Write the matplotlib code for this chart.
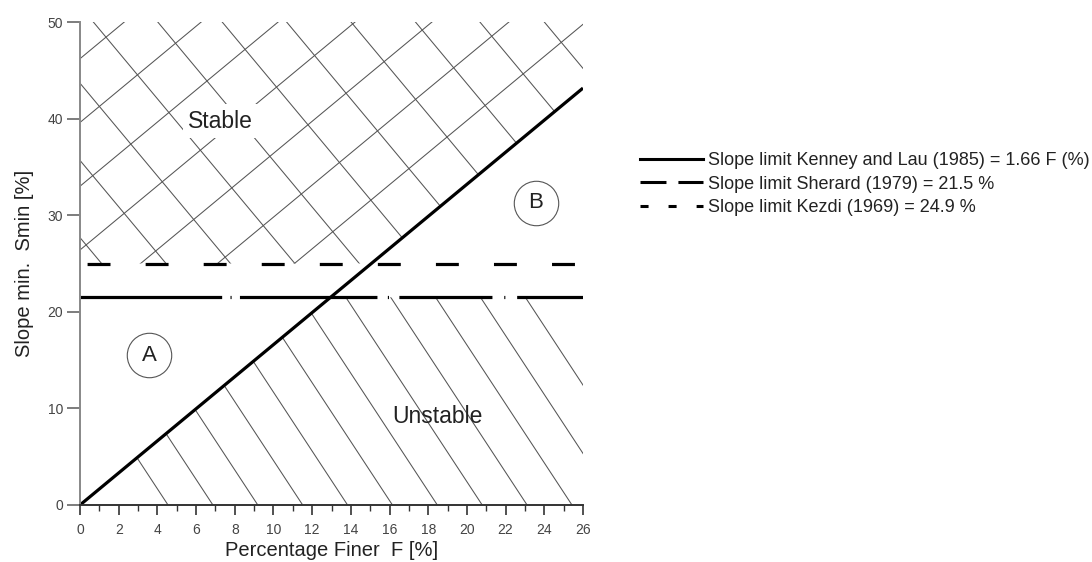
import numpy as np
import matplotlib
matplotlib.use('Agg')
import matplotlib.pyplot as plt
from matplotlib.patches import Polygon
from matplotlib.lines import Line2D

plt.rcParams['font.family'] = ['Liberation Sans', 'DejaVu Sans']
plt.rcParams['lines.scale_dashes'] = False

# chart values
kenney_f = [0.0, 26.0]
kenney_s = [0.0, 43.16]
sherard_s = 21.5
kezdi_s = 24.9
x_max, y_max = 26, 50
labels = ['Slope limit Kenney and Lau (1985) = 1.66 F (%)',
          'Slope limit Sherard (1979) = 21.5 %',
          'Slope limit Kezdi (1969) = 24.9 %']
region_marks = {'A': (3.58, 15.5), 'B': (23.55, 31.3)}
region_text = {'Stable': (7.27, 39.7), 'Unstable': (18.5, 9.2)}

fig = plt.figure(figsize=(10.92, 5.62), dpi=100)
ax = fig.add_axes([80 / 1092, 1 - 505 / 562, 503 / 1092, 483 / 562])
ax.set_xlim(0, x_max)
ax.set_ylim(0, y_max)

k = kenney_s[1] / kenney_f[1]
hatch_c = '#555555'

# stable region: cross hatch above Kezdi limit and above Kenney line
top = 25.0
stable = Polygon([(0, top), (top / k, top), (x_max, k * x_max), (x_max, y_max), (0, y_max)],
                 closed=True, fc='none', ec='none')
ax.add_patch(stable)
xs = np.array([-10, 40])
for c in np.arange(1, 9) * 6.6:
    ln, = ax.plot(xs, k * xs + c, color=hatch_c, lw=0.75)
    ln.set_clip_path(stable)
for x0 in 0.69 + 3.33 * np.arange(-10, 10):
    ln, = ax.plot(xs, y_max - 2.4 * (xs - x0), color=hatch_c, lw=0.75)
    ln.set_clip_path(stable)

# unstable region: single hatch below Sherard limit and below Kenney line
unstable = Polygon([(0, 0), (sherard_s / k, sherard_s), (x_max, sherard_s), (x_max, 0)],
                   closed=True, fc='none', ec='none')
ax.add_patch(unstable)
for x0 in 4.55 + 2.32 * np.arange(0, 12):
    ln, = ax.plot(xs, -3.05 * (xs - x0), color=hatch_c, lw=0.75)
    ln.set_clip_path(unstable)

# limit lines
ax.plot(kenney_f, kenney_s, color='black', lw=2.3, solid_capstyle='butt')
ax.axhline(sherard_s, color='black', lw=2.3, dash_capstyle='butt',
           dashes=(102, 6, 0.8, 6, 99, 7.5, 0.8, 7.5, 67, 8.5, 0.8, 8.5, 100, 10))
ax.axhline(kezdi_s, color='black', lw=2.3, dash_capstyle='butt',
           linestyle=(36.7, (16.5, 25.3)))

for lab, (px, py) in region_marks.items():
    ax.plot(px, py, 'o', ms=32, mfc='white', mec='#555555', mew=0.8)
    ax.text(px, py, lab, ha='center', va='center', fontsize=16, color='#222222')
ax.text(*region_text['Stable'], 'Stable', ha='center', va='center', fontsize=16.5,
        color='#222222', bbox=dict(fc='white', ec='none', pad=4))
ax.text(*region_text['Unstable'], 'Unstable', ha='center', va='center', fontsize=16.5,
        color='#222222')

# axes styling
for s in ['top', 'right']:
    ax.spines[s].set_visible(False)
ax.spines['left'].set_color('#888888')
ax.spines['left'].set_linewidth(1.4)
ax.spines['bottom'].set_color('#333333')
ax.spines['bottom'].set_linewidth(1.4)
ax.set_yticks(np.arange(0, 51, 10))
ax.set_xticks(np.arange(0, 27, 2))
ax.set_xticks(np.arange(1, 26, 2), minor=True)
ax.tick_params(axis='y', length=9.5, width=1.2, color='#666666', pad=2.5,
               labelsize=10, labelcolor='#444444')
ax.tick_params(axis='x', which='major', length=7.2, width=1.2, color='#333333', pad=6,
               labelsize=10, labelcolor='#444444')
ax.tick_params(axis='x', which='minor', length=4.3, width=1.0, color='#333333')
ax.set_xlabel('Percentage Finer  F [%]', fontsize=14.5, color='#222222', labelpad=3)
ax.set_ylabel('Slope min.  Smin [%]', fontsize=14.5, color='#222222', labelpad=10)

# legend with proxy handles
handles = [Line2D([], [], color='black', lw=2.2),
           Line2D([], [], color='black', lw=2.2, dashes=(18.7, 8.6)),
           Line2D([], [], color='black', lw=2.2, linestyle=(0, (5.8, 14.4)))]
fig.legend(handles, labels, loc='upper left', bbox_to_anchor=(640 / 1092, 1 - 152 / 562),
           frameon=False, fontsize=13, handlelength=3.5, handletextpad=0.25,
           labelspacing=0.37, borderpad=0, borderaxespad=0, labelcolor='#222222')

fig.savefig('out.png', dpi=100)
